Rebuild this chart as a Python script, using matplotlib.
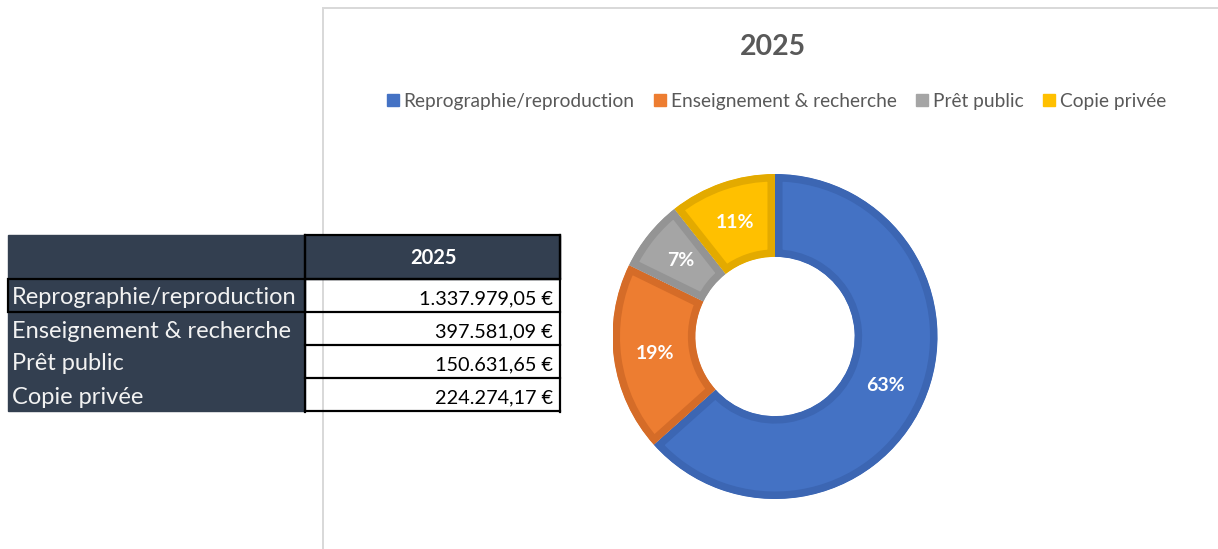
import matplotlib
matplotlib.use('Agg')
import matplotlib.pyplot as plt
from matplotlib.patches import Rectangle
from matplotlib.lines import Line2D

# ---- data ----
year = '2025'
categories = ['Reprographie/reproduction', 'Enseignement & recherche', 'Prêt public', 'Copie privée']
values = [1337979.05, 397581.09, 150631.65, 224274.17]
value_labels = ['1.337.979,05 €', '397.581,09 €', '150.631,65 €', '224.274,17 €']
colors = ['#4472C4', '#ED7D31', '#A5A5A5', '#FFC000']
edge_colors = ['#3C66B3', '#D56C28', '#949494', '#E3AA00']

plt.rcParams['font.family'] = ['Lato', 'DejaVu Sans']

W, H = 1218, 549
fig = plt.figure(figsize=(W / 100, H / 100), dpi=100)
bg = fig.add_axes([0, 0, 1, 1])
bg.set_xlim(0, W)
bg.set_ylim(H, 0)
bg.axis('off')

px = 72 / 100  # points per pixel

# chart area frame (left + top borders)
bg.plot([322.5, 322.5, W + 5], [H + 5, 7.5, 7.5], color='#D9D9D9', lw=2 * px,
        solid_capstyle='butt', solid_joinstyle='miter', zorder=1)

# title
bg.text(773, 47, year, ha='center', va='center', fontsize=20.5, fontweight='bold', color='#595959')

# ---- table ----
dark = '#333F50'
x0, xd, x1 = 8, 305, 560
row_edges = [235, 279, 312, 345, 378, 411]
bg.add_patch(Rectangle((x0, row_edges[0]), xd - x0, row_edges[-1] - row_edges[0], color=dark, zorder=2))
bg.add_patch(Rectangle((xd, row_edges[0]), x1 - xd, row_edges[1] - row_edges[0], color=dark, zorder=2))
lw = 2.2 * px
# header cell border
bg.add_patch(Rectangle((xd, row_edges[0]), x1 - xd, row_edges[1] - row_edges[0], fill=False,
                       ec='black', lw=lw, zorder=4))
# first label cell border
bg.add_patch(Rectangle((x0, row_edges[1]), xd - x0, row_edges[2] - row_edges[1], fill=False,
                       ec='black', lw=lw, zorder=4))
# value column lines
for y in row_edges[1:]:
    bg.plot([xd, x1], [y, y], color='black', lw=lw, zorder=4, solid_capstyle='projecting')
for x in (xd, x1):
    bg.plot([x, x], [row_edges[0], row_edges[-1] + 1], color='black', lw=lw, zorder=4)

bg.text((xd + x1) / 2 + 1, (row_edges[0] + row_edges[1]) / 2 + 1, year, ha='center', va='center',
        fontsize=14.5, fontweight='bold', color='white', zorder=5)
for i, (cat, vl) in enumerate(zip(categories, value_labels)):
    base = row_edges[i + 1] + 25.5
    bg.text(12, base, cat, ha='left', va='baseline', fontsize=17, color='#F2F2F2', zorder=5)
    bg.text(553, base, vl, ha='right', va='baseline', fontsize=14.3, color='black', zorder=5)

# ---- legend ----
handles = [Line2D([], [], marker='s', ls='none', markersize=8.5, markerfacecolor=c, markeredgecolor=c)
           for c in colors]
fig.legend(handles, categories, loc='center', bbox_to_anchor=(777 / W, 1 - 101 / H), ncol=4,
           frameon=False, fontsize=13.8, labelcolor='#595959', handlelength=0.55,
           handletextpad=0.3, columnspacing=1.05, borderaxespad=0)

# ---- donut ----
cx, cy, R = 775, 336.5, 162.5
ax = fig.add_axes([(cx - R) / W, 1 - (cy + R) / H, 2 * R / W, 2 * R / H])
wedges, _, autotexts = ax.pie(values, colors=colors, startangle=90, counterclock=False,
                              radius=1, autopct='%1.0f%%', pctdistance=0.745,
                              wedgeprops=dict(width=0.51),
                              textprops=dict(color='white', fontsize=14, fontweight='bold'))
ax.set_xlim(-1, 1)
ax.set_ylim(-1, 1)
ax.set_aspect('equal')
ax.axis('off')
for w, ec in zip(wedges, edge_colors):
    w.set_edgecolor(ec)
    w.set_linewidth(15 * px)
    w.set_clip_on(True)
    w.set_clip_path(w)

fig.savefig('out.png', dpi=100)
